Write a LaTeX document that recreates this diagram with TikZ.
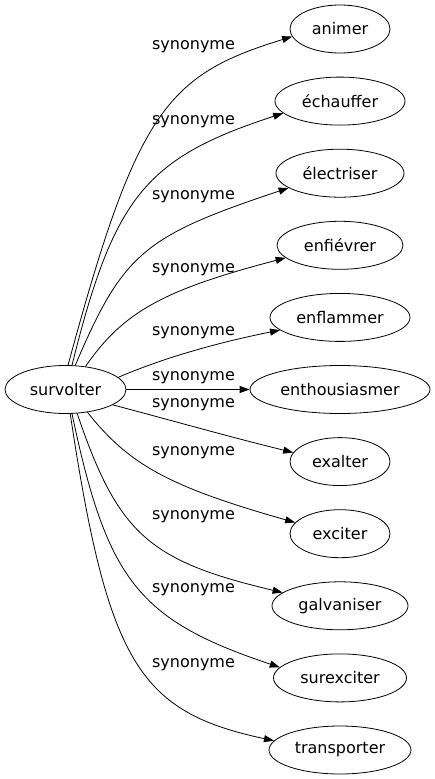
\documentclass[tikz,border=0pt]{standalone}
\usepackage{fontspec}
\setmainfont{DejaVu Sans}
\usetikzlibrary{arrows.meta,shapes.geometric}

\begin{document}
\begin{tikzpicture}[
  x=1pt,y=-1pt,
  word/.style={draw,ellipse,inner sep=0pt,minimum height=48pt,line width=0.8pt,font=\fontsize{16}{19}\selectfont},
  syn/.style={inner sep=0pt,font=\fontsize{16}{19}\selectfont},
  arr/.style={-{Triangle[length=10pt,width=7pt]},line width=0.8pt}
]
\useasboundingbox (0,0) rectangle (435,779);

\node[word,minimum width=121pt] (surv) at (65.5,389.5) {survolter};

\node[word,minimum width=100pt] (anim)  at (340,29)    {animer};
\node[word,minimum width=130pt] (echa)  at (340,101.1) {échauffer};
\node[word,minimum width=128pt] (elec)  at (340,173.2) {électriser};
\node[word,minimum width=126pt] (enfi)  at (340,245.3) {enfiévrer};
\node[word,minimum width=140pt] (enfl)  at (340,317.4) {enflammer};
\node[word,minimum width=180pt] (enth)  at (340,389.5) {enthousiasmer};
\node[word,minimum width=100pt] (exal)  at (340,461.6) {exalter};
\node[word,minimum width=100pt] (exci)  at (340,533.7) {exciter};
\node[word,minimum width=136pt] (galv)  at (340,605.8) {galvaniser};
\node[word,minimum width=133pt] (surex) at (340,677.9) {surexciter};
\node[word,minimum width=142pt] (trans) at (340,750)   {transporter};

% edge labels
\node[syn] (s1)  at (193.5,47)  {synonyme};
\node[syn] (s2)  at (193.5,122) {synonyme};
\node[syn] (s3)  at (193.5,197) {synonyme};
\node[syn] (s4)  at (193.5,270) {synonyme};
\node[syn] (s5)  at (193.5,333) {synonyme};
\node[syn] (s6)  at (193.5,378) {synonyme};
\node[syn] (s7)  at (193.5,405) {synonyme};
\node[syn] (s8)  at (193.5,453) {synonyme};
\node[syn] (s9)  at (193.5,517) {synonyme};
\node[syn] (s10) at (193.5,590) {synonyme};
\node[syn] (s11) at (193.5,665) {synonyme};

\draw[arr] (surv.84)  .. controls (137,110) and (167,75)  .. (anim.189);
\draw[arr] (surv.75)  .. controls (114,196) and (146,158) .. (echa.192);
\draw[arr] (surv.68)  .. controls (123,253) and (144,236) .. (elec.196);
\draw[arr] (surv.49)  .. controls (123,312) and (163,290) .. (enfi.193);
\draw[arr] (surv.13)  .. controls (170,355) and (230,340) .. (enfl.192);
\draw[arr] (surv.0) -- (enth.180);
\draw[arr] (surv.-18) .. controls (170,420) and (230,437) .. (exal.169);
\draw[arr] (surv.-46) .. controls (129,465) and (170,487) .. (exci.166);
\draw[arr] (surv.-64) .. controls (118,534) and (149,561) .. (galv.167);
\draw[arr] (surv.-75) .. controls (107,580) and (138,620) .. (surex.170);
\draw[arr] (surv.-79) .. controls (108,665) and (140,712) .. (trans.172);
\end{tikzpicture}
\end{document}
